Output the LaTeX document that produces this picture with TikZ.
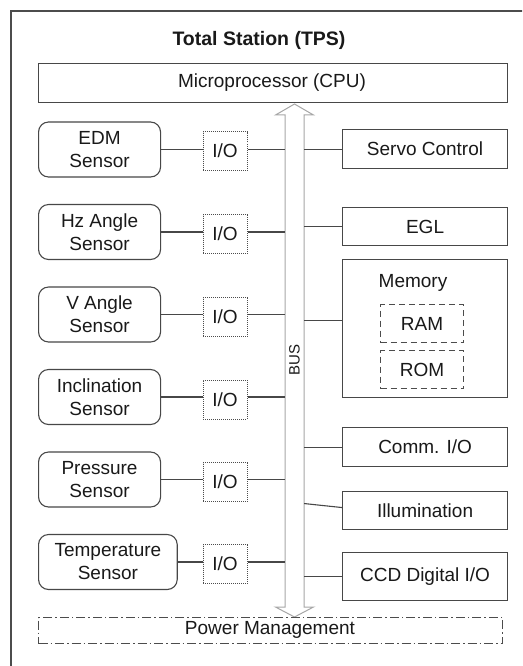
\documentclass[tikz,border=0pt]{standalone}
\usepackage{fontspec}
\setmainfont{Liberation Sans}
\begin{document}
\begin{tikzpicture}[x=1pt,y=-1pt,
  every node/.style={font=\fontsize{19}{23}\selectfont, text=black!90},
  ln/.style={draw=black!72, line width=1.1pt},
  sensor/.style={ln, rounded corners=10pt, minimum width=122pt, minimum height=55pt,
    align=center, inner xsep=16pt, inner ysep=0pt, anchor=west},
  iobox/.style={draw=black!70, line width=1pt, densely dotted, minimum width=44pt,
    minimum height=39pt, inner sep=0pt},
  unit/.style={ln, minimum width=165pt, inner sep=0pt, anchor=north west},
  sub/.style={draw=black!70, line width=1pt, dash pattern=on 6pt off 4pt,
    minimum width=83pt, minimum height=38pt, inner sep=0pt, anchor=north west},
  conn/.style={draw=black!72, line width=1.1pt},
  busline/.style={draw=black!35, line width=1pt, fill=white, line join=miter}
]
\path[use as bounding box] (0,0) rectangle (522,666);
\begin{scope}
  \clip (0,0) rectangle (522,666);
  \draw[draw=black!70, line width=1.5pt] (11,11) rectangle (560,700);
\end{scope}

% title
\node[font=\fontsize{19.5}{22}\selectfont\bfseries] (title) at (259,40) {Total Station (TPS)};

% CPU
\node[ln, minimum width=469pt, minimum height=39pt, inner sep=0pt, anchor=north west]
  (cpu) at (38,63) {};
\node (cputext) at (272,83) {Microprocessor (CPU)};

% bus
\draw[busline] (285,115) -- (275.5,115) -- (294.5,104) -- (313.5,115) -- (304,115)
  -- (304,607) -- (313.5,607) -- (294.5,617) -- (275.5,607) -- (285,607) -- cycle;
\node[inner sep=0pt, minimum width=19pt, minimum height=492pt] (bus) at (294.5,361) {};
\node[rotate=90, font=\fontsize{15}{18}\selectfont] (buslabel) at (294.5,360) {BUS};

% sensors
\node[sensor] (s1) at (38,149.5) {EDM\\Sensor};
\node[sensor] (s2) at (38,232) {Hz Angle\\Sensor};
\node[sensor] (s3) at (38,314.5) {V Angle\\Sensor};
\node[sensor] (s4) at (38,397) {Inclination\\Sensor};
\node[sensor] (s5) at (38,479.5) {Pressure\\Sensor};
\node[sensor] (s6) at (38,562) {Temperature\\Sensor};

\foreach \i/\y in {1/151,2/234,3/317,4/399.5,5/482,6/564}{
  \node[iobox] (io\i) at (225,\y) {I/O};
}
\foreach \i in {1,...,6}{
  \draw[conn] (s\i.east) -- (s\i.east -| io\i.west);
  \draw[conn] (s\i.east -| io\i.east) -- (s\i.east -| bus.west);
}

% right column
\node[unit, minimum height=39pt] (servo) at (342,129) {};
\node (servot) at (servo.center) {Servo Control};
\node[unit, minimum height=38pt] (egl) at (342,207) {};
\node (eglt) at (egl.center) {EGL};
\node[unit, minimum height=138pt] (mem) at (342,259) {};
\node (memt) at (413,283) {Memory};
\node[sub] (ram) at (380,304) {RAM};
\node[sub] (rom) at (380,350) {ROM};
\node[unit, minimum height=39pt] (comm) at (342,427) {};
\node (commt) at (comm.center) {Comm. I/O};
\node[unit, minimum height=38pt] (ill) at (342,491) {};
\node (illt) at (ill.center) {Illumination};
\node[unit, minimum height=48pt] (ccd) at (342,552) {};
\node (ccdt) at (ccd.center) {CCD Digital I/O};

\draw[conn] (servo.west -| bus.east) -- (servo.west);
\draw[conn] (egl.west -| bus.east) -- (egl.west);
\draw[conn] ([yshift=8pt]mem.west -| bus.east) -- ([yshift=8pt]mem.west);
\draw[conn] (comm.west -| bus.east) -- (comm.west);
\draw[conn] ([yshift=7pt]ill.west -| bus.east) -- ([yshift=3pt]ill.west);
\draw[conn] (ccd.west -| bus.east) -- (ccd.west);

% power management
\node[draw=black!70, line width=1pt, dash pattern=on 9pt off 3pt on 1.5pt off 3pt,
  minimum width=464pt, minimum height=26pt, inner sep=0pt, anchor=north west]
  (pm) at (38,617) {};
\node (pmt) at (270,630) {Power Management};
\end{tikzpicture}
\end{document}
